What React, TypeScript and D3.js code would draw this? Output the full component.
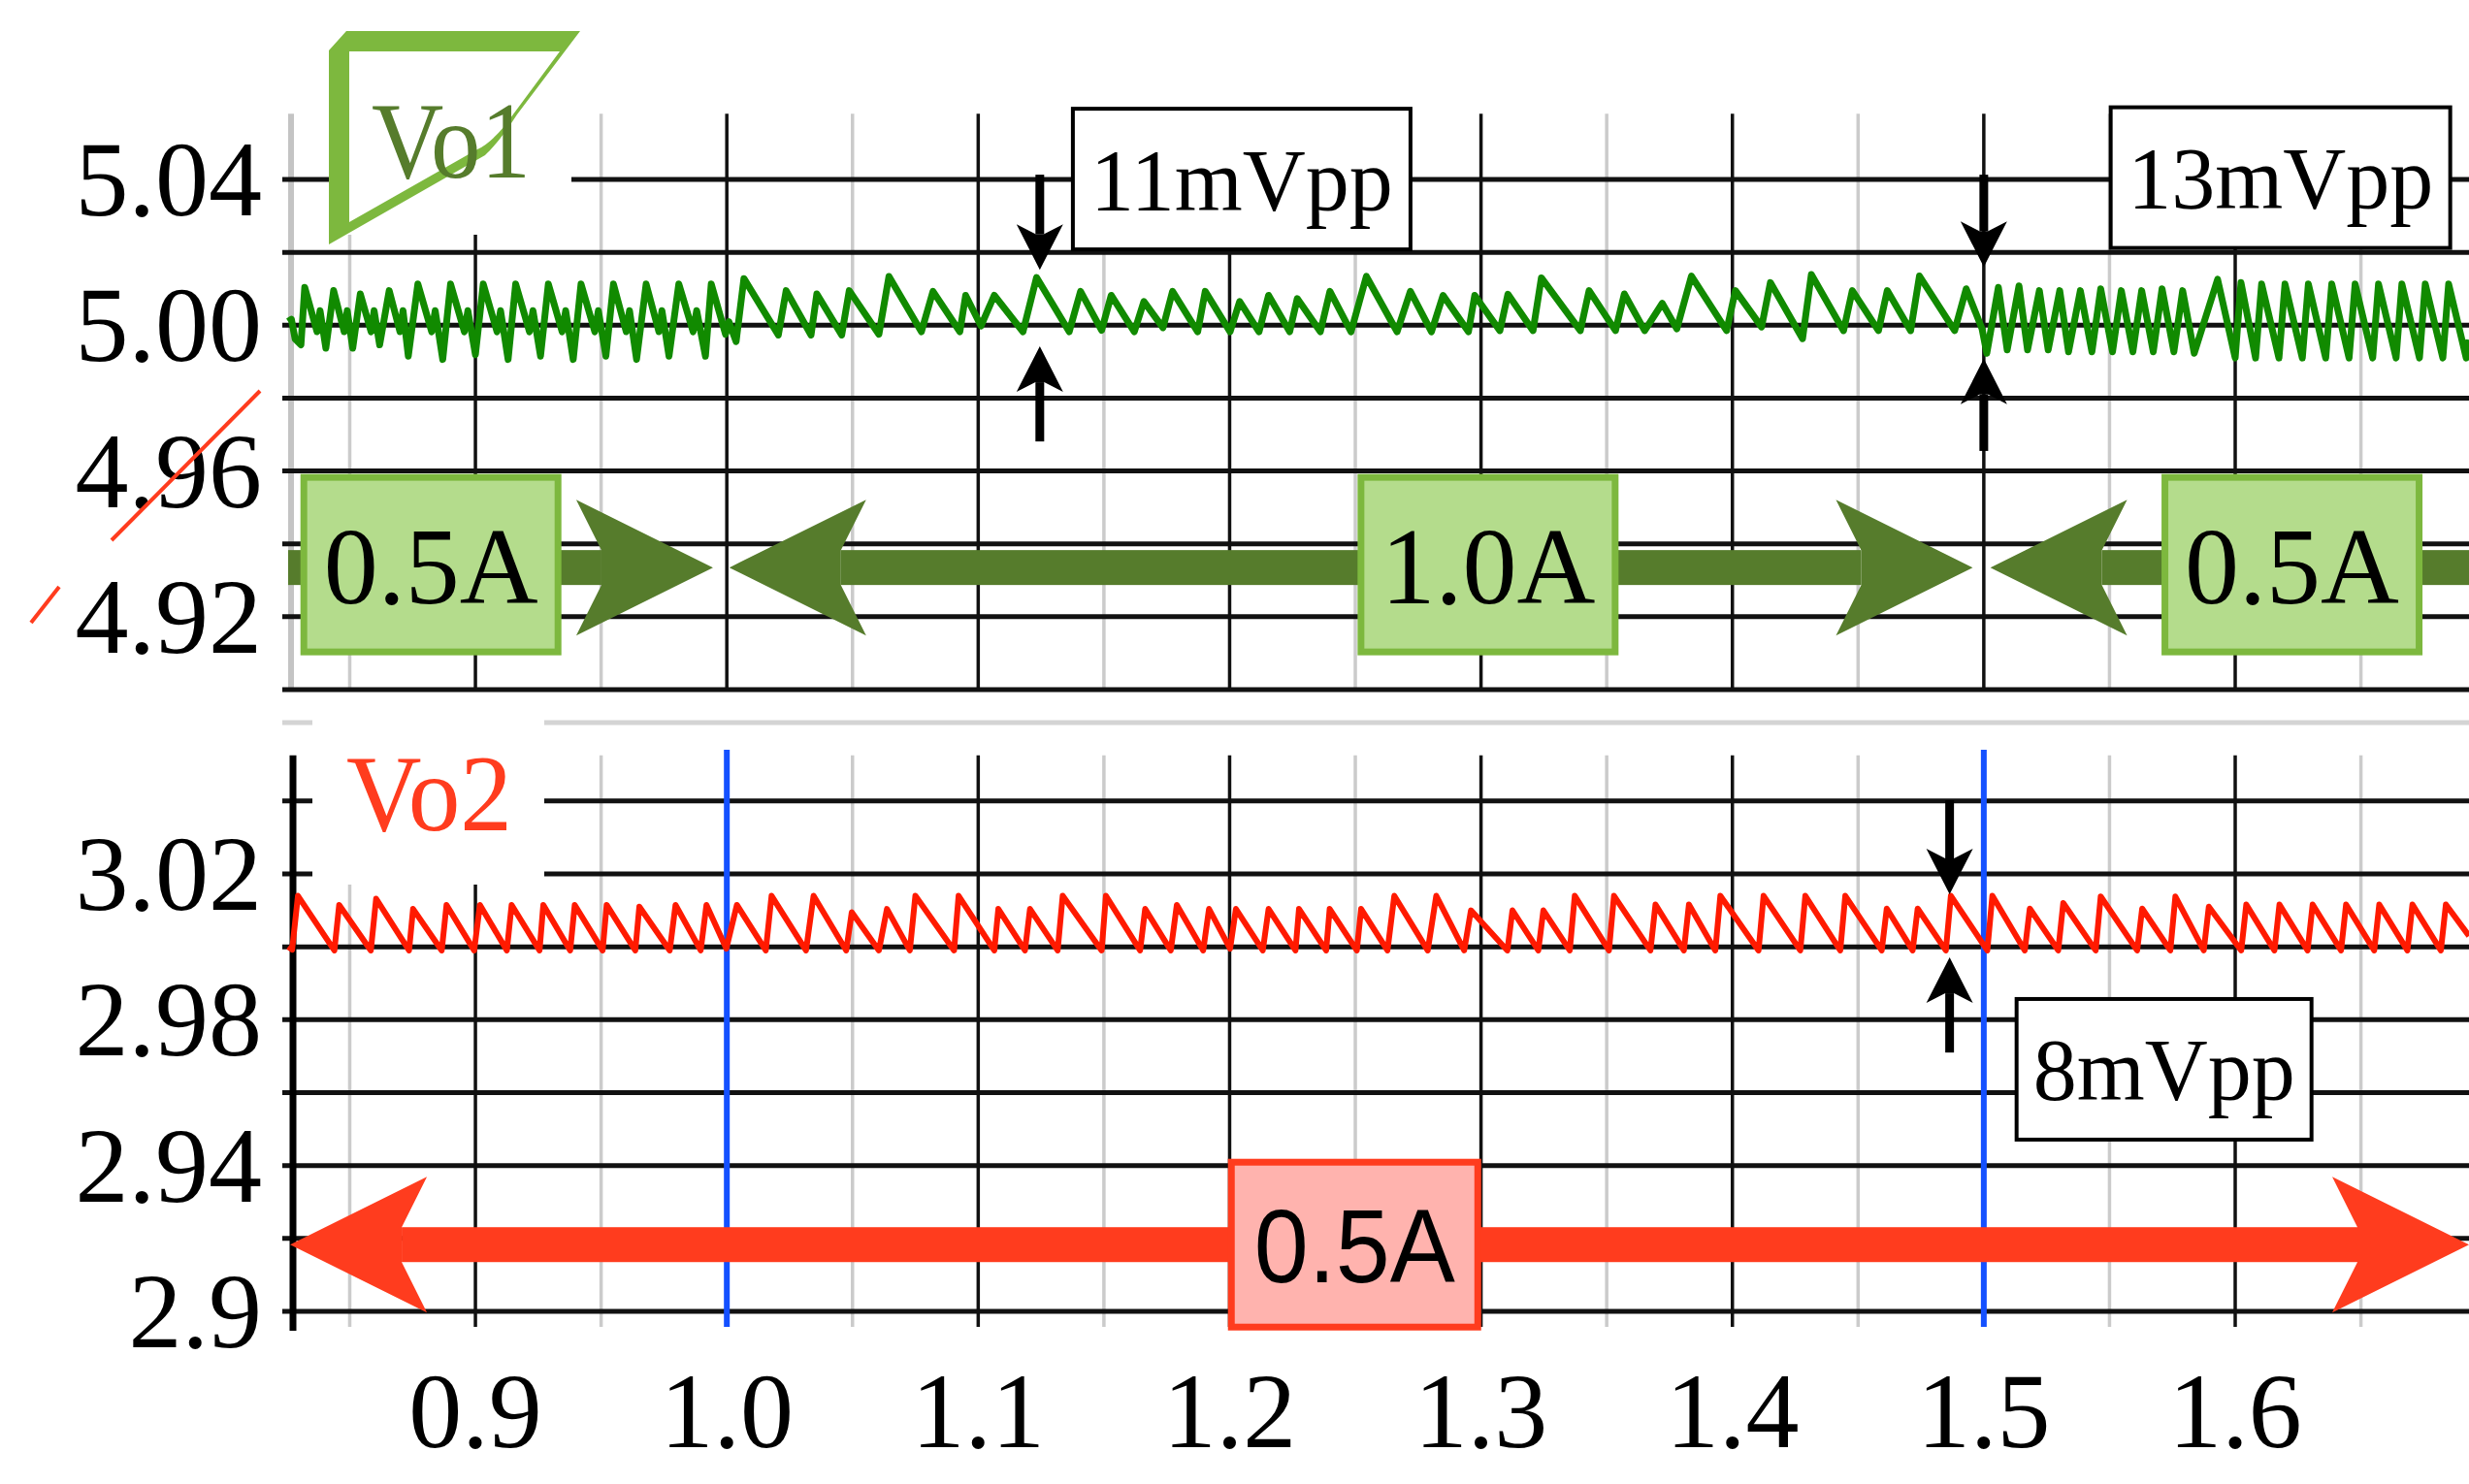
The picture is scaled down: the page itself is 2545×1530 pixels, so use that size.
import React from "react";
import * as d3 from "d3";

const W = 2545;
const H = 1530;

// time axis (ms)
const timeMajor = [0.9, 1.0, 1.1, 1.2, 1.3, 1.4, 1.5, 1.6];
const timeMinor = [0.85, 0.95, 1.05, 1.15, 1.25, 1.35, 1.45, 1.55, 1.65];
const timeLabels = ["0.9", "1.0", "1.1", "1.2", "1.3", "1.4", "1.5", "1.6"];

// Vo1 panel
const vo1Grid = [4.9, 4.92, 4.94, 4.96, 4.98, 5.0, 5.02, 5.04];
const vo1Ticks = [5.04, 5.0, 4.96, 4.92];
const vo1Labels = ["5.04", "5.00", "4.96", "4.92"];

// Vo2 panel
const vo2Grid = [2.9, 2.92, 2.94, 2.96, 2.98, 3.0, 3.02, 3.04];
const vo2Ticks = [3.02, 2.98, 2.94, 2.9];
const vo2Labels = ["3.02", "2.98", "2.94", "2.9"];

// load step instants
const stepTimes = [1.0, 1.5];

// load current segments: [start, end]
const vo1LoadSpans = [
  [0.8255, 0.9945],
  [1.001, 1.4956],
  [1.5026, 1.693],
];
const vo1LoadHeads = [
  [false, true],
  [true, true],
  [true, false],
];
const vo1LoadText = ["0.5A", "1.0A", "0.5A"];
const vo1LoadTextAt = [0.8823, 1.3028, 1.6226];
const vo1LoadLevel = 4.9335;

const vo2LoadSpan = [0.8263, 1.693];
const vo2LoadText = "0.5A";
const vo2LoadTextAt = 1.2497;
const vo2LoadLevel = 2.9183;

// ripple markers: time, arrow tail above, tip above, tip below, tail below
const rippleText = ["11mVpp", "13mVpp", "8mVpp"];
const rippleTime = [1.1245, 1.5, 1.4864];
const rippleLevels = [
  [5.0413, 5.0152, 4.9942, 4.9681],
  [5.0413, 5.016, 4.9908, 4.9655],
  [3.0402, 3.0144, 2.9971, 2.971],
];
const rippleBoxAt = [
  [1.2048, 5.0401],
  [1.618, 5.0405],
  [1.5717, 2.9664],
];

// Vo1 trace (ms, V)
const vo1Trace: [number, number][] = [
  [0.8255, 5.001], [0.8268, 5.0016], [0.8283, 4.9962], [0.8306, 4.9946], [0.8321, 5.0104],
  [0.837, 4.9982], [0.8382, 5.004], [0.8405, 4.9937], [0.8436, 5.0095], [0.8478, 4.9982],
  [0.849, 5.004], [0.8512, 4.9937], [0.8542, 5.0086], [0.8585, 4.9982], [0.8597, 5.004],
  [0.8619, 4.9946], [0.8657, 5.0095], [0.87, 4.9982], [0.8712, 5.004], [0.8733, 4.9915],
  [0.8771, 5.0113], [0.8826, 4.9982], [0.884, 5.004], [0.887, 4.9906], [0.8901, 5.0113],
  [0.8956, 4.9982], [0.897, 5.004], [0.9, 4.9919], [0.9031, 5.0113], [0.9086, 4.9982],
  [0.91, 5.004], [0.913, 4.9906], [0.916, 5.0113], [0.9215, 4.9982], [0.9229, 5.004],
  [0.9259, 4.9915], [0.929, 5.0113], [0.9345, 4.9982], [0.9359, 5.004], [0.9389, 4.9906],
  [0.942, 5.0113], [0.9475, 4.9982], [0.9489, 5.004], [0.9519, 4.9915], [0.9549, 5.0113],
  [0.96, 4.9982], [0.9613, 5.004], [0.9641, 4.9906], [0.9679, 5.0113], [0.973, 4.9982],
  [0.9742, 5.004], [0.977, 4.9915], [0.9809, 5.0113], [0.9866, 4.9982], [0.988, 5.004],
  [0.9915, 4.9915], [0.9938, 5.0113], [0.9995, 4.9975], [1.0008, 5.001], [1.0037, 4.9955],
  [1.0068, 5.0128], [1.0205, 4.9973], [1.0236, 5.0095], [1.0335, 4.9973], [1.0358, 5.0086],
  [1.0457, 4.9973], [1.0487, 5.0095], [1.0605, 4.9975], [1.0645, 5.0134], [1.0774, 4.9982],
  [1.082, 5.0093], [1.0927, 4.9982], [1.095, 5.0082], [1.1011, 4.9998], [1.1064, 5.0082],
  [1.1178, 4.9982], [1.1232, 5.0131], [1.1362, 4.9982], [1.1407, 5.0093], [1.1491, 4.9986],
  [1.1529, 5.0082], [1.1621, 4.9982], [1.1659, 5.0065], [1.1735, 4.9993], [1.1773, 5.0093],
  [1.1873, 4.9982], [1.1903, 5.0093], [1.2002, 4.9982], [1.204, 5.0065], [1.2117, 4.9982],
  [1.2155, 5.0082], [1.2239, 4.9982], [1.2269, 5.0073], [1.2361, 4.9982], [1.2399, 5.0093],
  [1.2483, 4.9982], [1.2544, 5.0134], [1.2666, 4.9982], [1.2719, 5.0093], [1.2803, 4.9982],
  [1.2849, 5.0082], [1.295, 4.9982], [1.2975, 5.0082], [1.3075, 4.9985], [1.3107, 5.0085],
  [1.3207, 4.9985], [1.324, 5.013], [1.3395, 4.9985], [1.343, 5.0095], [1.3535, 4.9985],
  [1.357, 5.0086], [1.3651, 4.9985], [1.3721, 5.006], [1.3779, 4.999], [1.3837, 5.0135],
  [1.3977, 4.9985], [1.4012, 5.0095], [1.4116, 4.9995], [1.4151, 5.0117], [1.4279, 4.9963],
  [1.4314, 5.0139], [1.4442, 4.9985], [1.4477, 5.0095], [1.4581, 4.9985], [1.4616, 5.0095],
  [1.4709, 4.9985], [1.4744, 5.0135], [1.4884, 4.9985], [1.493, 5.01], [1.4993, 4.999],
  [1.5012, 4.9923], [1.5058, 5.0104], [1.5093, 4.9932], [1.514, 5.0108], [1.5174, 4.9932],
  [1.5221, 5.0095], [1.5256, 4.9932], [1.5302, 5.0095], [1.5337, 4.9927], [1.5384, 5.0095],
  [1.543, 4.9927], [1.5465, 5.01], [1.5512, 4.9927], [1.5547, 5.0095], [1.5593, 4.9927],
  [1.5628, 5.0095], [1.5674, 4.9927], [1.5709, 5.01], [1.5756, 4.9927], [1.5791, 5.0095],
  [1.5837, 4.9923], [1.593, 5.0126], [1.6, 4.991], [1.6023, 5.0117], [1.6081, 4.991],
  [1.6105, 5.0113], [1.6174, 4.991], [1.6198, 5.0113], [1.6267, 4.991], [1.6291, 5.0113],
  [1.636, 4.991], [1.6384, 5.0113], [1.6453, 4.991], [1.6477, 5.0113], [1.6547, 4.991],
  [1.657, 5.0113], [1.664, 4.991], [1.6663, 5.0113], [1.6733, 4.991], [1.6756, 5.0113],
  [1.6826, 4.991], [1.6849, 5.0113], [1.6919, 4.991], [1.693, 4.996],
];

// Vo2 trace (ms, V)
const vo2Trace: [number, number][] = [
  [0.8255, 3.0], [0.8271, 2.9992], [0.8294, 3.014], [0.8439, 2.999], [0.8458, 3.0115],
  [0.8584, 2.999], [0.8605, 3.0132], [0.8736, 2.999], [0.8752, 3.0104], [0.8866, 2.999],
  [0.8885, 3.0115], [0.8995, 2.999], [0.9018, 3.0115], [0.9125, 2.999], [0.9144, 3.0115],
  [0.9255, 2.999], [0.927, 3.0115], [0.9377, 2.999], [0.9395, 3.0115], [0.9506, 2.999],
  [0.9522, 3.0115], [0.9636, 2.999], [0.9652, 3.011], [0.9773, 2.999], [0.9796, 3.0115],
  [0.9896, 2.999], [0.9919, 3.0115], [0.9998, 2.9995], [1.004, 3.0115], [1.0155, 2.999],
  [1.0178, 3.014], [1.0315, 2.999], [1.0345, 3.014], [1.0475, 2.999], [1.0497, 3.0095],
  [1.0605, 2.999], [1.0637, 3.0104], [1.0728, 2.999], [1.075, 3.014], [1.0904, 2.999],
  [1.0922, 3.014], [1.1064, 2.999], [1.108, 3.0104], [1.1186, 2.999], [1.1206, 3.0104],
  [1.1316, 2.999], [1.1336, 3.014], [1.1491, 2.999], [1.1508, 3.014], [1.1644, 2.999],
  [1.1664, 3.0104], [1.1766, 2.999], [1.179, 3.0115], [1.1895, 2.999], [1.1918, 3.0104],
  [1.2002, 2.9995], [1.2025, 3.0104], [1.2132, 2.999], [1.2155, 3.0104], [1.2262, 2.999],
  [1.2276, 3.0104], [1.2384, 2.999], [1.2398, 3.0104], [1.2506, 2.999], [1.2523, 3.0104],
  [1.2628, 2.999], [1.2655, 3.014], [1.2788, 2.999], [1.2822, 3.014], [1.2933, 2.999],
  [1.296, 3.01], [1.3105, 2.999], [1.3125, 3.01], [1.3228, 2.999], [1.3248, 3.01],
  [1.3353, 2.999], [1.3373, 3.014], [1.3509, 2.999], [1.3529, 3.014], [1.3674, 2.999],
  [1.3694, 3.0116], [1.3807, 2.999], [1.3827, 3.0116], [1.3932, 2.999], [1.3952, 3.014],
  [1.4104, 2.999], [1.4124, 3.014], [1.427, 2.999], [1.429, 3.014], [1.4429, 2.999],
  [1.4449, 3.014], [1.4594, 2.999], [1.4614, 3.0105], [1.4717, 2.999], [1.4737, 3.0105],
  [1.4849, 2.999], [1.4869, 3.014], [1.5014, 2.999], [1.5034, 3.014], [1.5163, 2.999],
  [1.5183, 3.0105], [1.5296, 2.999], [1.5316, 3.012], [1.5445, 2.999], [1.5465, 3.0138],
  [1.561, 2.999], [1.563, 3.0105], [1.5742, 2.999], [1.5762, 3.0138], [1.5875, 2.999],
  [1.5895, 3.011], [1.6024, 2.999], [1.6044, 3.0116], [1.6156, 2.999], [1.6176, 3.0116],
  [1.6288, 2.999], [1.6308, 3.0116], [1.6421, 2.999], [1.6441, 3.0116], [1.6553, 2.999],
  [1.6573, 3.0116], [1.6685, 2.999], [1.6705, 3.0116], [1.6818, 2.999], [1.6838, 3.0116],
  [1.693, 3.003],
];

const SERIF = "'Liberation Serif','Times New Roman',serif";
const SANS = "'Liberation Sans',Arial,sans-serif";
const GREEN_DARK = "#567c2c";
const GREEN_LIGHT = "#b4dc8c";
const GREEN_EDGE = "#7db83e";
const RED = "#ff3c1e";

const x = d3.scaleLinear().domain([0.8255, 1.693]).range([297, 2545]);
const yTop = d3.scaleLinear().domain([4.9, 5.04]).range([711, 185]);
const yBot = d3.scaleLinear().domain([2.9, 3.02]).range([1352, 901]);

// notched arrow head, horizontal
function hHead(tip: number, y: number, dir: number, len: number, half: number, notch: number, bar: number) {
  const back = tip - dir * len;
  const n = tip - dir * (len - notch);
  return `M${tip},${y}L${back},${y - half}L${n},${y - bar}L${n},${y + bar}L${back},${y + half}Z`;
}
// notched arrow head, vertical (dir +1 points down)
function vHead(x0: number, tip: number, dir: number, len: number, half: number, notch: number, bar: number) {
  const back = tip - dir * len;
  const n = tip - dir * (len - notch);
  return `M${x0},${tip}L${x0 - half},${back}L${x0 - bar},${n}L${x0 + bar},${n}L${x0 + half},${back}Z`;
}

function LoadBar({ t0, t1, v, left, right, color, y }: any) {
  const cy = y(v);
  const len = 141, notch = 26, half = 70, bar = 18;
  const a = left ? x(t0) + len - notch : x(t0);
  const b = right ? x(t1) - len + notch : x(t1);
  return (
    <g fill={color}>
      <rect x={a} y={cy - bar} width={b - a} height={bar * 2} />
      {left && <path d={hHead(x(t0), cy, -1, len, half, notch, bar)} />}
      {right && <path d={hHead(x(t1), cy, 1, len, half, notch, bar)} />}
    </g>
  );
}

function Ripple({ i, y }: any) {
  const cx = x(rippleTime[i]);
  const [a, b, c, d] = rippleLevels[i].map((v) => y(v));
  const len = 47, half = 24, notch = 10, bar = 4.5;
  const [bt, bv] = rippleBoxAt[i];
  const bw = [348, 350, 304][i];
  const bh = 145;
  const bx = x(bt), by = y(bv);
  return (
    <g>
      <rect x={cx - bar} y={a} width={bar * 2} height={b - a - len + notch} fill="#000" />
      <path d={vHead(cx, b, 1, len, half, notch, bar)} fill="#000" />
      <rect x={cx - bar} y={c + len - notch} width={bar * 2} height={d - c - len + notch} fill="#000" />
      <path d={vHead(cx, c, -1, len, half, notch, bar)} fill="#000" />
      <rect x={bx - bw / 2} y={by - bh / 2} width={bw} height={bh} fill="#fff" stroke="#000" strokeWidth={4} />
      <text x={bx} y={by + 32} textAnchor="middle" fontFamily={SERIF} fontSize={90}>
        {rippleText[i]}
      </text>
    </g>
  );
}

export default function App() {
  const line1 = d3.line<[number, number]>().x((d) => x(d[0])).y((d) => yTop(d[1]));
  const line2 = d3.line<[number, number]>().x((d) => x(d[0])).y((d) => yBot(d[1]));
  const topY0 = yTop(5.058), topY1 = yTop(4.9);
  const botY0 = yBot(3.0525), botY1 = yBot(2.9) + 16;

  return (
    <svg width={W} height={H} viewBox={`0 0 ${W} ${H}`} style={{ position: "absolute", left: 0, top: 0, background: "#fff" }}>
      <rect width={W} height={H} fill="#fff" />

      {/* top panel grid */}
      <g>
        {timeMinor.map((t) => (
          <line key={t} x1={x(t)} x2={x(t)} y1={topY0} y2={topY1} stroke="#cbcbcb" strokeWidth={3.5} />
        ))}
        {timeMajor.map((t) => (
          <line key={t} x1={x(t)} x2={x(t)} y1={topY0} y2={topY1} stroke="#111" strokeWidth={3.5} />
        ))}
        <line x1={300} x2={300} y1={topY0} y2={topY1} stroke="#c4c4c4" strokeWidth={6} />
        {vo1Grid.map((v) => (
          <line key={v} x1={291} x2={W} y1={yTop(v)} y2={yTop(v)} stroke="#111" strokeWidth={5} />
        ))}
      </g>

      {/* bottom panel grid */}
      <g>
        {timeMinor.map((t) => (
          <line key={t} x1={x(t)} x2={x(t)} y1={botY0} y2={botY1} stroke="#cbcbcb" strokeWidth={3.5} />
        ))}
        {timeMajor.map((t) => (
          <line key={t} x1={x(t)} x2={x(t)} y1={botY0} y2={botY1} stroke="#111" strokeWidth={3.5} />
        ))}
        {vo2Grid.map((v) => (
          <line key={v} x1={291} x2={W} y1={yBot(v)} y2={yBot(v)} stroke="#111" strokeWidth={5} />
        ))}
        <line x1={302} x2={302} y1={botY0} y2={botY1 + 4} stroke="#000" strokeWidth={7} />
      </g>

      {/* panel separator */}
      <line x1={291} x2={W} y1={745} y2={745} stroke="#d4d4d4" strokeWidth={5} />

      {/* label backgrounds */}
      <rect x={339} y={100} width={250} height={142} fill="#fff" />
      <rect x={322} y={732} width={239} height={180} fill="#fff" />

      {/* load-step markers */}
      {stepTimes.map((t) => (
        <line key={t} x1={x(t)} x2={x(t)} y1={773} y2={botY1} stroke="#1450ff" strokeWidth={6} />
      ))}

      {/* traces */}
      <path d={line1(vo1Trace) || ""} fill="none" stroke="#118a00" strokeWidth={7} strokeLinejoin="round" />
      <path d={line2(vo2Trace) || ""} fill="none" stroke="#ff1a00" strokeWidth={6} strokeLinejoin="round" />

      {/* Vo1 load current */}
      {vo1LoadSpans.map(([t0, t1], i) => (
        <LoadBar key={i} t0={t0} t1={t1} v={vo1LoadLevel} left={vo1LoadHeads[i][0]} right={vo1LoadHeads[i][1]} color={GREEN_DARK} y={yTop} />
      ))}
      {vo1LoadText.map((s, i) => {
        const cx = x(vo1LoadTextAt[i]);
        const cy = yTop(vo1LoadLevel) - 3;
        return (
          <g key={i}>
            <rect x={cx - 131} y={cy - 90} width={262} height={180} fill={GREEN_LIGHT} stroke={GREEN_EDGE} strokeWidth={7} />
            <text x={cx} y={cy + 40} textAnchor="middle" fontFamily={SERIF} fontSize={112}>
              {s}
            </text>
          </g>
        );
      })}

      {/* Vo2 load current */}
      <LoadBar t0={vo2LoadSpan[0]} t1={vo2LoadSpan[1]} v={vo2LoadLevel} left right color={RED} y={yBot} />
      <g>
        <rect x={x(vo2LoadTextAt) - 127} y={yBot(vo2LoadLevel) - 85} width={254} height={170} fill="#ffb3ae" stroke={RED} strokeWidth={7} />
        <text x={x(vo2LoadTextAt)} y={yBot(vo2LoadLevel) + 39} textAnchor="middle" fontFamily={SANS} fontSize={108} textLength={207} lengthAdjust="spacingAndGlyphs">
          {vo2LoadText}
        </text>
      </g>

      {/* ripple annotations */}
      <Ripple i={0} y={yTop} />
      <Ripple i={1} y={yTop} />
      <Ripple i={2} y={yBot} />

      {/* Vo1 tag */}
      <path d="M339,52L357,32L598,32L533,118Q515,146 500,160L339,252Z" fill={GREEN_EDGE} />
      <path d="M360,53L577,53L520,130Q505,148 492,154L360,229Z" fill="#fff" />
      <text x={383} y={183} fontFamily={SERIF} fontSize={112} fill={GREEN_DARK} textLength={164} lengthAdjust="spacingAndGlyphs">
        Vo1
      </text>

      {/* Vo2 tag */}
      <text x={357} y={856} fontFamily={SERIF} fontSize={112} fill={RED} textLength={171} lengthAdjust="spacingAndGlyphs">
        Vo2
      </text>

      {/* axis labels */}
      {vo1Ticks.map((v, i) => (
        <text key={v} x={270} y={yTop(v) + 37} textAnchor="end" fontFamily={SERIF} fontSize={110}>
          {vo1Labels[i]}
        </text>
      ))}
      {vo2Ticks.map((v, i) => (
        <text key={v} x={270} y={yBot(v) + 37} textAnchor="end" fontFamily={SERIF} fontSize={110}>
          {vo2Labels[i]}
        </text>
      ))}
      {timeMajor.map((t, i) => (
        <text key={t} x={x(t)} y={1492} textAnchor="middle" fontFamily={SERIF} fontSize={110}>
          {timeLabels[i]}
        </text>
      ))}

      {/* stray red strokes from the source figure */}
      <line x1={268} y1={403} x2={115} y2={557} stroke={RED} strokeWidth={4} />
      <line x1={61} y1={605} x2={32} y2={642} stroke={RED} strokeWidth={4} />
    </svg>
  );
}
